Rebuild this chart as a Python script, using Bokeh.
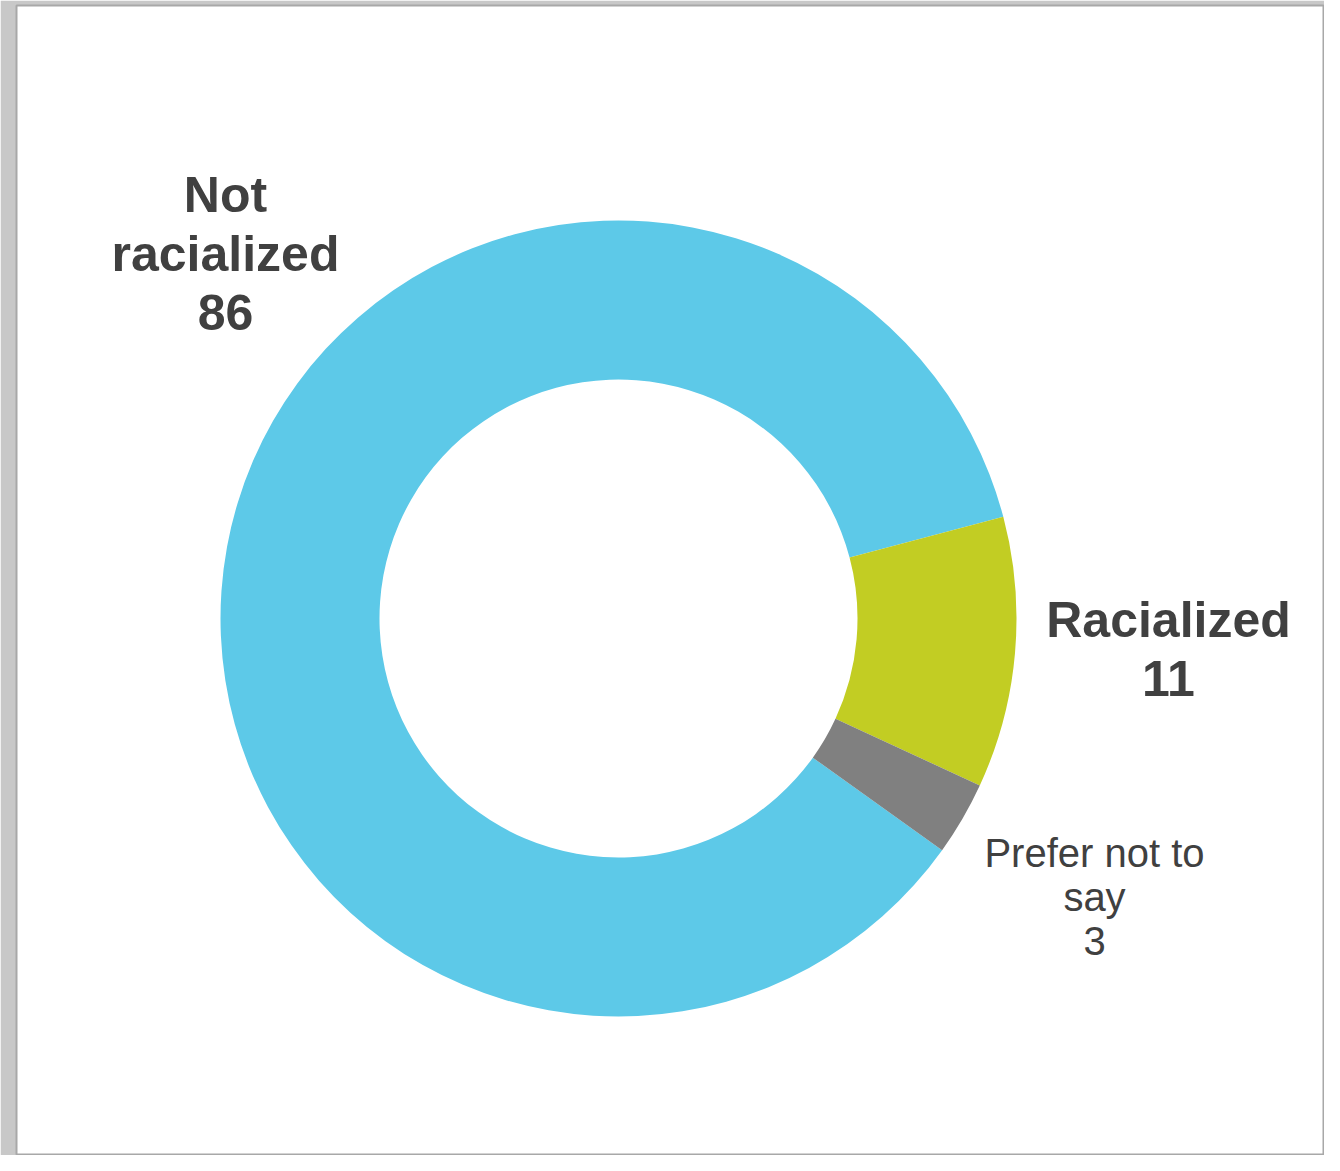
import math
from bokeh.plotting import figure
from bokeh.models import Range1d, ColumnDataSource
from bokeh.core.properties import value
from bokeh.embed import file_html
from bokeh.resources import INLINE

# ---- data ----
categories = ["Not racialized", "Racialized", "Prefer not to say"]
display_labels = ["Not\nracialized", "Racialized", "Prefer not to\nsay"]
values = [86, 11, 3]
colors = ["#5DC9E8", "#C2CD23", "#808080"]

# ---- layout (figure pixel space, y measured from the top) ----
W, H = 1324, 1155
def Y(py):
    return H - py

cx, cy = 618, 618
r_out, r_in = 398, 239
start_deg = -35.6  # first slice starts here and runs clockwise

total = float(sum(values))
starts, ends = [], []
cum = 0.0
for v in values:
    a0 = math.radians(start_deg) - cum / total * 2 * math.pi
    cum += v
    a1 = math.radians(start_deg) - cum / total * 2 * math.pi
    starts.append(a1)
    ends.append(a0)

src = ColumnDataSource(dict(
    x=[cx] * len(values), y=[Y(cy)] * len(values),
    start=starts, end=ends, color=colors, cat=categories, val=values))

p = figure(width=W, height=H, output_backend="svg", toolbar_location=None,
           x_range=Range1d(16, W), y_range=Range1d(Y(H), Y(5)),
           min_border_left=16, min_border_right=0, min_border_top=5, min_border_bottom=0)
p.axis.visible = False
p.grid.visible = False
p.background_fill_color = "white"
p.border_fill_color = "#c8c8c8"
p.outline_line_color = "#a8a8a8"
p.outline_line_width = 2

p.annular_wedge(x="x", y="y", inner_radius=r_in, outer_radius=r_out,
                start_angle="start", end_angle="end", direction="anticlock",
                fill_color="color", line_color=None, source=src)

# label anchors: (center x, y of first line, font px, line spacing, weight)
anchors = [
    (225, 194, 50, 59, "bold"),
    (1168, 619, 50, 59, "bold"),
    (1094, 852, 40, 44, "normal"),
]
for lab, v, (ax, ay, fs, ls, fw) in zip(display_labels, values, anchors):
    lines = lab.split("\n") + [str(v)]
    xs = [ax] * len(lines)
    ys = [Y(ay + i * ls) for i in range(len(lines))]
    p.text(x=xs, y=ys, text=lines, text_align="center", text_baseline="middle",
           text_font=value("Liberation Sans"), text_font_size=f"{fs}px",
           text_font_style=fw, text_color="#404040")

html = file_html(p, INLINE)
html = html.replace("<body>", '<body style="background-color:#c8c8c8;">', 1)
open("out.html", "w").write(html)
